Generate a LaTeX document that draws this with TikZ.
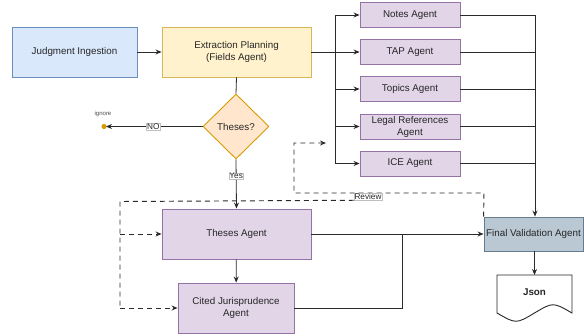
\documentclass[tikz,border=0pt]{standalone}
\usepackage{fontspec}
\setmainfont{Liberation Sans}
\usetikzlibrary{shapes.geometric,arrows.meta}

\definecolor{blueFill}{HTML}{DAE8FC}\definecolor{blueLine}{HTML}{6C8EBF}
\definecolor{yellowFill}{HTML}{FFF2CC}\definecolor{yellowLine}{HTML}{D6B656}
\definecolor{orangeFill}{HTML}{FFE6CC}\definecolor{orangeLine}{HTML}{D79B00}
\definecolor{purpleFill}{HTML}{E1D5E7}\definecolor{purpleLine}{HTML}{9673A6}
\definecolor{slateFill}{HTML}{BAC8D3}\definecolor{slateLine}{HTML}{23445D}
\definecolor{wire}{HTML}{2A2A2A}

\tikzset{
  box/.style={rectangle, draw, line width=0.9pt, align=center, inner sep=1pt,
    font=\fontsize{9.8}{12}\selectfont, text=black!85},
  ingest/.style={box, fill=blueFill, draw=blueLine, minimum width=125pt, minimum height=50pt},
  plan/.style={box, fill=yellowFill, draw=yellowLine, minimum width=149pt, minimum height=50pt},
  agent/.style={box, fill=purpleFill, draw=purpleLine, minimum width=100pt, minimum height=25pt},
  bigagent/.style={box, fill=purpleFill, draw=purpleLine, minimum height=50pt},
  final/.style={box, fill=slateFill, draw=slateLine!70, minimum width=99pt, minimum height=34pt},
  decision/.style={diamond, draw=orangeLine, fill=orangeFill, line width=0.9pt, aspect=1,
    inner sep=0pt, minimum width=66pt, minimum height=65pt,
    font=\fontsize{9.8}{12}\selectfont, text=black!85},
  tag/.style={fill=white, draw=black!25, line width=0.3pt, inner sep=0.6pt,
    font=\fontsize{8.2}{9}\selectfont, text=black!85},
  wire/.style={draw=wire, line width=0.8pt},
  flow/.style={wire, -{Stealth[length=6pt,width=5pt]}},
  review/.style={wire, line width=0.95pt, dash pattern=on 5pt off 4pt},
  reviewarrow/.style={review, -{Stealth[length=6pt,width=5pt]}},
}

\begin{document}
\begin{tikzpicture}[x=1pt, y=-1pt]
\useasboundingbox (0,0) rectangle (584,335);

% main pipeline
\node[ingest] (ji) at (74.5,52) {Judgment Ingestion};
\node[plan] (ep) at (236.5,52) {Extraction Planning\\(Fields Agent)};
\node[decision] (dec) at (236,126.5) {Theses?};

% parallel extraction agents
\node[agent] (notes) at (410,15) {Notes Agent};
\node[agent] (tap) at (410,52) {TAP Agent};
\node[agent] (topics) at (410,89) {Topics Agent};
\node[agent] (legal) at (410,126.5) {Legal References\\Agent};
\node[agent] (ice) at (410,163.5) {ICE Agent};

% theses branch
\node[bigagent, minimum width=149pt] (theses) at (236.5,234) {Theses Agent};
\node[bigagent, minimum width=116pt] (cited) at (236,308) {Cited Jurisprudence\\Agent};

% validation and output
\node[final] (fv) at (533.5,234) {Final Validation Agent};
\draw[line width=0.9pt, draw=black!85, fill=white]
  (497,275) -- (572,275) -- (572,313)
  .. controls (553,302) .. (534.5,313)
  .. controls (516,324) .. (497,313) -- cycle;
\node[font=\bfseries\fontsize{9.8}{12}\selectfont, text=black!85] (json) at (534.5,292) {Json};
\coordinate (jsontop) at (534.5,275);

% ignore terminal
\fill[orangeLine] (104,126.5) circle (2.6pt);
\coordinate (ign) at (106,126.5);
\node[font=\fontsize{6}{7}\selectfont, text=black!70] (ignlbl) at (103,114) {ignore};

% bus coordinates
\coordinate (lbus) at (335,0);
\coordinate (rbus) at (535,0);

% ingestion to planning
\draw[flow] (ji) -- (ep);

% planning fans out to the agents
\draw[wire] (ep.east) -- (ep.east -| lbus);
\draw[wire] (notes.west -| lbus) -- (ice.west -| lbus);
\foreach \a in {notes,tap,topics,legal,ice}
  \draw[flow] (\a.west -| lbus) -- (\a.west);

% agents collect into final validation
\foreach \a in {notes,tap,topics,legal,ice}
  \draw[wire] (\a.east) -- (\a.east -| rbus);
\draw[flow] (notes.east -| rbus) -- (fv.north -| rbus);

% decision
\draw[wire] (ep.south) -- (dec.north);
\draw[flow] (dec.west) -- node[tag, pos=0.51] {NO} (ign);
\draw[flow] (dec.south) -- node[tag, pos=0.34] {Yes} (theses.north);

% theses branch
\draw[flow] (theses) -- (cited);
\draw[flow] (theses.east) -- (fv.west);
\coordinate (join) at (402,234);
\draw[wire] (cited.east) -- (cited.east -| join) -- (join);

% output
\draw[flow] (fv.south -| jsontop) -- (jsontop);

% review feedback loops
\coordinate (rvcorner) at (484,193);
\coordinate (rvleft) at (294,193);
\coordinate (rvup) at (294,143);
\coordinate (rvend) at (326,143);
\draw[reviewarrow] (fv.north west) -- (rvcorner) -- (rvleft) -- (rvup) -- (rvend);
\node[tag] (rev) at (368,196.5) {Review};
\coordinate (rvlow) at (120,201.5);
\draw[review] (rev.south west) -- (rvlow) -- (rvlow |- cited.west);
\draw[reviewarrow] (rvlow |- theses.west) -- (theses.west);
\draw[reviewarrow] (rvlow |- cited.west) -- (cited.west);
\end{tikzpicture}
\end{document}
